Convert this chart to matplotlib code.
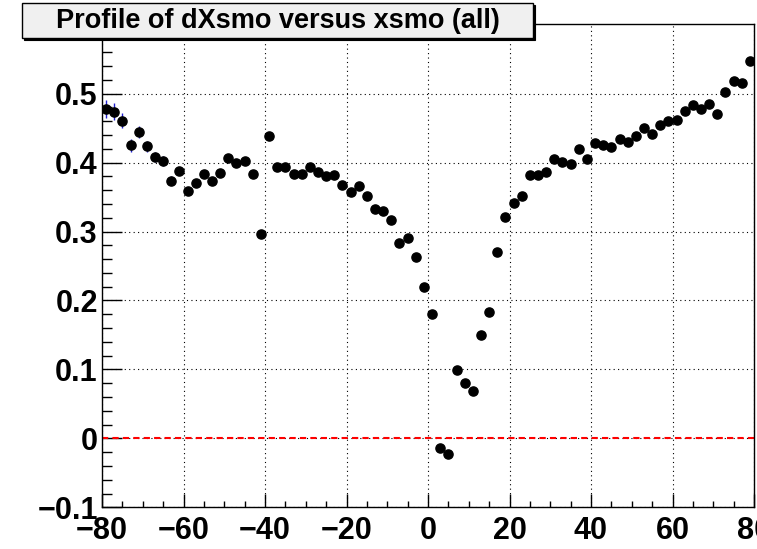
import numpy as np
import matplotlib
matplotlib.use("Agg")
import matplotlib.pyplot as plt
from matplotlib.ticker import MultipleLocator, FixedLocator
from matplotlib.patches import Rectangle

# profile of dXsmo vs xsmo, 80 bins of width 2 from -80 to 80
xsmo = np.arange(-79, 80, 2)
dxsmo = [
    0.478, 0.474, 0.461, 0.425, 0.444, 0.424, 0.408, 0.402, 0.374, 0.388,
    0.359, 0.370, 0.384, 0.374, 0.385, 0.406, 0.399, 0.402, 0.383, 0.297,
    0.439, 0.394, 0.394, 0.383, 0.383, 0.393, 0.386, 0.380, 0.382, 0.367,
    0.357, 0.366, 0.351, 0.333, 0.330, 0.317, 0.284, 0.290, 0.263, 0.220,
    0.180, -0.014, -0.022, 0.099, 0.080, 0.068, 0.150, 0.183, 0.271, 0.321,
    0.341, 0.351, 0.382, 0.382, 0.386, 0.405, 0.401, 0.398, 0.419, 0.405,
    0.429, 0.425, 0.423, 0.434, 0.430, 0.438, 0.450, 0.442, 0.455, 0.460,
    0.462, 0.475, 0.483, 0.477, 0.485, 0.471, 0.502, 0.518, 0.516, 0.548,
]
errs = [
    0.013, 0.012, 0.011, 0.009, 0.009, 0.008, 0.007, 0.007, 0.006, 0.006,
    0.005, 0.005, 0.005, 0.005, 0.005, 0.004, 0.004, 0.004, 0.004, 0.004,
    0.004, 0.004, 0.004, 0.004, 0.004, 0.004, 0.004, 0.004, 0.004, 0.004,
    0.004, 0.004, 0.004, 0.004, 0.004, 0.004, 0.004, 0.004, 0.004, 0.004,
    0.004, 0.004, 0.004, 0.004, 0.004, 0.004, 0.004, 0.004, 0.004, 0.004,
    0.004, 0.004, 0.004, 0.004, 0.004, 0.004, 0.004, 0.004, 0.004, 0.004,
    0.004, 0.004, 0.004, 0.004, 0.004, 0.004, 0.004, 0.004, 0.004, 0.004,
    0.004, 0.004, 0.004, 0.004, 0.005, 0.005, 0.005, 0.005, 0.005, 0.005,
]
xticks = [-80, -60, -40, -20, 0, 20, 40, 60, 80]
xticklabels = ["\u221280", "\u221260", "\u221240", "\u221220", "0", "20", "40", "60", "80"]
yticks = [-0.1, 0, 0.1, 0.2, 0.3, 0.4, 0.5]
yticklabels = ["\u22120.1", "0", "0.1", "0.2", "0.3", "0.4", "0.5"]
title = "Profile of dXsmo versus xsmo (all)"

plt.rcParams["font.family"] = ["Liberation Sans", "DejaVu Sans"]
plt.rcParams["font.weight"] = "bold"

W, H = 757, 549
fig = plt.figure(figsize=(W / 100, H / 100), dpi=100)
ax = fig.add_axes([102 / W, (H - 507.3) / H, (754 - 102) / W, (507.3 - 24) / H])

ax.set_xlim(-80, 80)
ax.set_ylim(-0.1, 0.601)

ax.grid(True, which="major", color="black", linestyle=(0, (1, 3)), linewidth=0.8)
ax.axhline(0, color="red", linestyle=(0, (3, 2)), linewidth=1.5, zorder=2)

ax.errorbar(xsmo, dxsmo, yerr=errs, fmt="o", color="black", ecolor="#2020d0",
            elinewidth=1.0, markersize=6.6, capsize=0, zorder=3)

ax.xaxis.set_major_locator(FixedLocator(xticks))
ax.set_xticklabels(xticklabels)
ax.xaxis.set_minor_locator(MultipleLocator(5))
ax.yaxis.set_major_locator(FixedLocator(yticks))
ax.set_yticklabels(yticklabels)
ax.yaxis.set_minor_locator(MultipleLocator(0.02))

ax.tick_params(axis="both", which="both", direction="in", top=False, right=False,
               labelsize=22, width=1.0, color="black")
ax.tick_params(axis="x", which="major", length=9.5, pad=6)
ax.tick_params(axis="x", which="minor", length=4.5)
ax.tick_params(axis="y", which="major", length=14.5, pad=3)
ax.tick_params(axis="y", which="minor", length=7.2)
for lab in ax.get_xticklabels() + ax.get_yticklabels():
    lab.set_fontweight("bold")

for sp in ax.spines.values():
    sp.set_linewidth(1.0)
    sp.set_color("black")

# title pave with drop shadow
x0, x1 = 22 / W, 533 / W
y0, y1 = 1 - 38 / H, 1 - 3 / H
fig.patches.append(Rectangle((x0 + 2 / W, y0 - 2 / H), x1 - x0, y1 - y0,
                             transform=fig.transFigure, facecolor="black",
                             edgecolor="black", linewidth=0.8, zorder=5))
fig.patches.append(Rectangle((x0, y0), x1 - x0, y1 - y0,
                             transform=fig.transFigure, facecolor="#f0f0f0",
                             edgecolor="black", linewidth=1.0, zorder=6))
fig.text((x0 + x1) / 2, (y0 + y1) / 2, title, ha="center", va="center",
         fontsize=19.5, fontweight="bold", zorder=7)

fig.savefig("out.png", dpi=100)
